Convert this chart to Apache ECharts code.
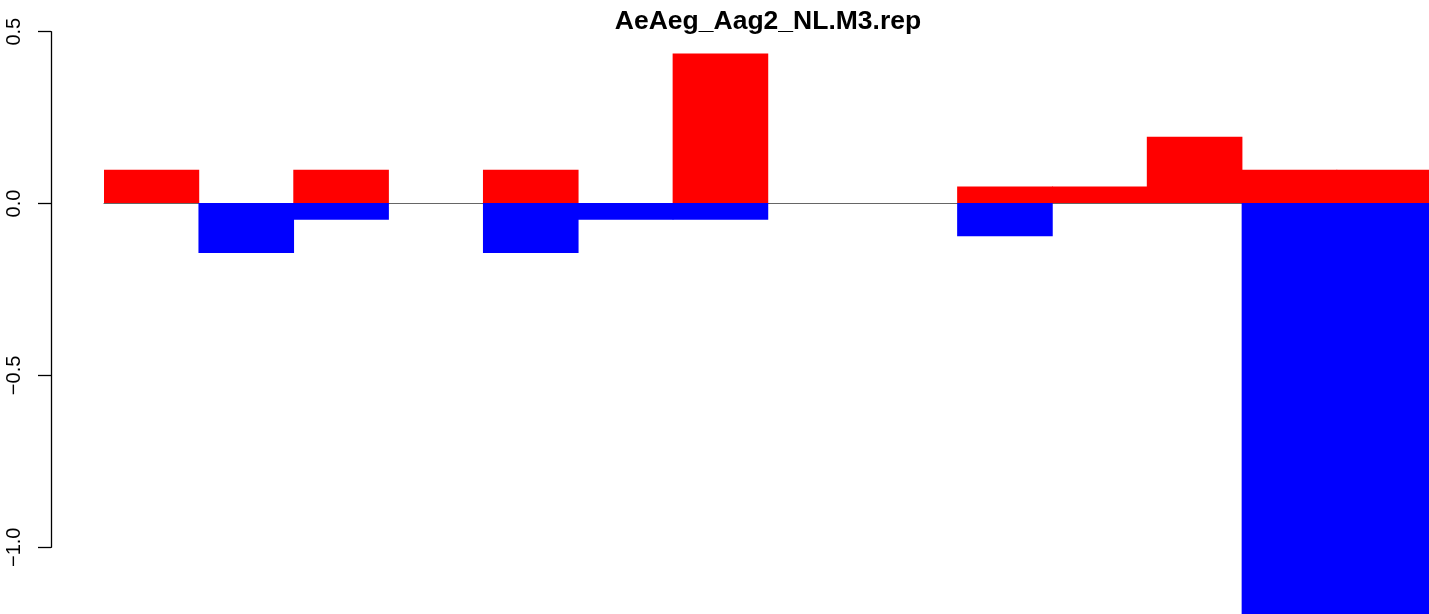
<!DOCTYPE html>
<html>
<head>
<meta charset="utf-8">
<script src="https://cdn.jsdelivr.net/npm/echarts@6/dist/echarts.min.js"></script>
<style>
html,body{margin:0;padding:0;background:#fff;overflow:hidden;width:1429px;height:614px;}
#main{width:1434px;height:614px;}
</style>
</head>
<body>
<div id="main"></div>
<script>
var titleText = 'AeAeg_Aag2_NL.M3.rep';
var categories = ['1','2','3','4','5','6','7','8','9','10','11','12','13','14'];
var upValues = [0.097, 0, 0.097, 0, 0.097, 0, 0.436, 0, 0, 0.048, 0.048, 0.193, 0.097, 0.097];
var downValues = [0, -0.146, -0.049, 0, -0.146, -0.049, -0.049, 0, 0, -0.097, 0, 0, -1.3, -1.3];
var yTicks = [-1.0, -0.5, 0.0, 0.5];

function skipZero(arr) {
  return arr.map(function (v) { return v === 0 ? '-' : v; });
}

var chart = echarts.init(document.getElementById('main'), null, {renderer: 'canvas'});
var font = 'Liberation Sans, Arial, Helvetica, sans-serif';
chart.setOption({
  animation: false,
  backgroundColor: '#ffffff',
  title: {
    text: titleText,
    left: 763,
    top: 3,
    textAlign: 'center',
    textStyle: {fontFamily: font, fontWeight: 'bold', fontSize: 26.5, color: '#000'}
  },
  grid: [
    {left: 104, top: 31.7, width: 1327.7, height: 582.6},
    {left: 51, top: 31.7, width: 1, height: 515.6}
  ],
  xAxis: [
    {type: 'category', gridIndex: 0, data: categories, boundaryGap: true,
     axisLine: {show: true, onZero: true, lineStyle: {color: '#666', width: 1.2}},
     axisTick: {show: false}, axisLabel: {show: false}},
    {type: 'value', gridIndex: 1, show: false}
  ],
  yAxis: [
    {type: 'value', gridIndex: 0, min: -1.2, max: 0.5, show: false, splitLine: {show: false}},
    {type: 'value', gridIndex: 1, min: yTicks[0], max: yTicks[yTicks.length - 1], interval: 0.5,
     splitLine: {show: false},
     axisLine: {show: true, lineStyle: {color: '#000', width: 1.3}},
     axisTick: {show: true, length: 13, lineStyle: {color: '#000', width: 1.3}},
     axisLabel: {show: true, rotate: 90, margin: 27, fontFamily: font, fontSize: 20, color: '#000',
       formatter: function (v) { return v.toFixed(1).replace('-', '\u2212'); }}}
  ],
  series: [
    {type: 'bar', name: 'up', xAxisIndex: 0, yAxisIndex: 0, data: skipZero(upValues),
     barWidth: 95.6, barGap: '-100%',
     itemStyle: {color: '#ff0000'}},
    {type: 'bar', name: 'down', xAxisIndex: 0, yAxisIndex: 0, data: skipZero(downValues),
     barWidth: 95.6, barGap: '-100%',
     itemStyle: {color: '#0000ff'}}
  ]
});
</script>
</body>
</html>
